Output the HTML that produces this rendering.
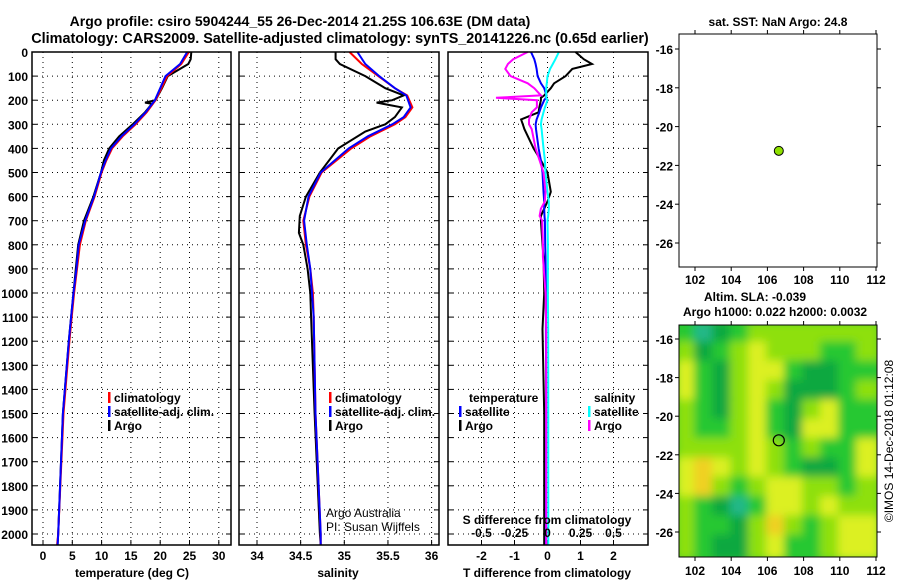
<!DOCTYPE html>
<html><head><meta charset="utf-8"><style>
body{margin:0;background:#fff;}
svg{display:block;font-family:"Liberation Sans",sans-serif;font-weight:bold;}
</style></head><body>
<svg id="c" width="900" height="580" viewBox="0 0 900 580" xmlns="http://www.w3.org/2000/svg">
<defs>
<filter id="bl" x="-5%" y="-5%" width="110%" height="110%"><feGaussianBlur stdDeviation="4.5"/></filter>
<clipPath id="mapclip"><rect x="679" y="325" width="198" height="232"/></clipPath>
</defs>
<text x="300" y="26" font-size="14" text-anchor="middle">Argo profile: csiro 5904244_55 26-Dec-2014 21.25S 106.63E (DM data)</text>
<text x="340" y="43" font-size="14.4" text-anchor="middle">Climatology: CARS2009. Satellite-adjusted climatology: synTS_20141226.nc (0.65d earlier)</text>
<g id="g"></g>
</svg>
<script>
// ---- data ----
const depthTicks=[0,100,200,300,400,500,600,700,800,900,1000,1100,1200,1300,1400,1500,1600,1700,1800,1900,2000];
const tempTicks=[0,5,10,15,20,25,30];
const salTicks=[34,34.5,35,35.5,36];
const tdiffTicks=[-2,-1,0,1,2];
const sdiffTicks=[-0.5,-0.25,0,0.25,0.5];
const sdiffLabels=["-0.5","-0.25","0","0.25","0.5"];

const tArgoDepth=[0,30,50,100,150,200,210,215,250,300,350,400,450,500,600,700,800,900,1000,1100,1200,1500,2000,2045];
const tArgo=[25.3,25.2,24.8,21.3,20.3,19.2,17.4,18.6,17.4,15.3,13.0,11.3,10.4,9.9,8.6,7.0,6.0,5.6,5.2,4.8,4.4,3.4,2.6,2.5];
const tClimDepth=[0,50,100,150,200,250,300,350,400,450,500,600,700,800,900,1000,1100,1200,1500,2000,2045];
const tClim=[24.9,23.6,21.2,20.2,19.2,17.7,15.8,13.6,11.8,10.8,10.0,8.8,7.3,6.3,5.8,5.3,4.9,4.5,3.5,2.6,2.4];
const tSat=[24.6,23.4,20.9,20.0,19.1,17.5,15.6,13.4,11.6,10.7,9.9,8.7,7.2,6.1,5.7,5.2,4.8,4.4,3.4,2.6,2.5];

const sArgoDepth=[0,30,50,100,150,180,200,210,230,270,300,330,400,500,600,680,750,800,900,1000,1100,1500,2000,2045];
const sArgo=[34.90,34.90,34.95,35.24,35.47,35.68,35.55,35.37,35.66,35.58,35.47,35.24,34.93,34.72,34.56,34.49,34.48,34.53,34.58,34.61,34.62,34.66,34.72,34.73];
const sClimDepth=[0,50,100,150,180,230,270,300,350,400,500,600,700,800,900,1000,1100,1500,2000,2045];
const sClim=[35.06,35.20,35.39,35.58,35.72,35.78,35.70,35.58,35.30,35.08,34.74,34.60,34.53,34.56,34.61,34.64,34.65,34.67,34.73,34.73];
const sSat=[35.15,35.24,35.40,35.58,35.71,35.76,35.68,35.55,35.27,35.05,34.73,34.59,34.54,34.57,34.61,34.63,34.65,34.67,34.73,34.73];

const dDepth=[0,30,50,70,100,130,150,180,190,200,230,250,280,300,320,400,450,500,580,620,650,680,700,800,850,1000,1150,1500,2000,2045];
const dTArgo=[0.85,1.1,1.35,0.75,0.55,0.2,0.1,-0.1,-0.2,-0.2,-0.25,-0.27,-0.8,-0.75,-0.7,-0.42,-0.2,0,0.1,0,-0.1,-0.2,-0.2,-0.15,-0.12,-0.1,-0.15,-0.1,-0.1,-0.1];
const dTSat=[-0.5,-0.4,-0.36,-0.33,-0.3,-0.2,-0.1,-0.03,-0.05,-0.1,-0.2,-0.25,-0.33,-0.36,-0.35,-0.27,-0.2,-0.15,-0.12,-0.1,-0.1,-0.09,-0.08,-0.07,-0.06,-0.05,-0.05,-0.04,-0.05,-0.05];
const dSSat=[0.086,0.06,0.04,0.02,0,-0.005,-0.01,-0.01,-0.01,0,-0.02,-0.03,-0.045,-0.05,-0.045,-0.03,-0.02,-0.015,0,0.01,0.01,0.005,0,0.003,0.003,0.003,0.005,0.006,0.006,0.006];
const dSArgo=[-0.15,-0.26,-0.3,-0.32,-0.28,-0.15,-0.1,-0.05,-0.39,-0.08,-0.08,-0.12,-0.14,-0.14,-0.12,-0.09,-0.06,-0.03,-0.015,-0.02,-0.05,-0.06,-0.04,-0.035,-0.035,-0.015,-0.01,-0.01,-0.01,-0.01];

const latTicks=[-16,-18,-20,-22,-24,-26];
const lonTicks=[102,104,106,108,110,112];
const floatLon=106.63, floatLat=-21.25;
const slaGrid=[
[2,0,1,2,3,3,3,3,3,3,3],
[3,1,2,3,4,3,3,3,2,2,3],
[4,2,1,3,4,4,2,1,1,2,2],
[4,2,1,3,4,3,1,1,1,2,3],
[3,2,1,3,4,2,1,3,4,2,2],
[3,2,2,3,4,2,1,4,4,2,2],
[3,3,3,3,4,3,2,3,2,2,4],
[4,5,4,3,4,3,2,1,1,2,4],
[4,5,3,2,3,4,4,3,3,2,3],
[3,2,1,0,2,4,4,3,4,3,3],
[3,2,2,1,3,5,3,2,3,4,4],
[3,2,1,1,3,4,2,2,3,4,4]];
const slaColors=["#20b888","#0ea840","#28c830","#8ee010","#dcf020","#f0d020"];

// ---- helpers ----
const NS="http://www.w3.org/2000/svg";
const G=document.getElementById('g');
function mk(tag,attrs,parent){const e=document.createElementNS(NS,tag);for(const k in attrs)e.setAttribute(k,attrs[k]);(parent||G).appendChild(e);return e;}
function txt(x,y,s,size,anchor,parent){const t=mk('text',{x:x,y:y,'font-size':size,'text-anchor':anchor||'start'},parent);t.textContent=s;return t;}
const yD=d=>52+d*0.241;
const PT={x0:32,x1:231},PS={x0:239,x1:439},PD={x0:448,x1:648};
const xT=v=>43+v*5.86;
const xS=v=>257+(v-34)*87.3;
const xDT=v=>547.5+v*33;
const xDS=v=>547.5+v*132;
const yTop=52,yBot=545;

function panel(P,name){
  const g=mk('g',{});
  
  
  for(const d of depthTicks){
    const l=mk('line',{x1:P.x0,x2:P.x1,y1:yD(d),y2:yD(d),stroke:'#000','stroke-width':1,'stroke-dasharray':'1,4'},g);
    
    
    mk('line',{x1:P.x0,x2:P.x0+5,y1:yD(d),y2:yD(d),stroke:'#000'},g);
    mk('line',{x1:P.x1-5,x2:P.x1,y1:yD(d),y2:yD(d),stroke:'#000'},g);
  }
  return g;
}
function vgrid(g,vals,fx){
  for(const v of vals){
    const l=mk('line',{x1:fx(v),x2:fx(v),y1:yTop,y2:yBot,stroke:'#000','stroke-width':1,'stroke-dasharray':'1,4'},g);
    
    
    mk('line',{x1:fx(v),x2:fx(v),y1:yBot-5,y2:yBot,stroke:'#000'},g);
  }
}
function frame(g,P){const r=mk('rect',{x:P.x0,y:yTop,width:P.x1-P.x0,height:yBot-yTop,fill:'none',stroke:'#000','stroke-width':1.5},g);}
function line(g,depths,vals,fx,color,name){
  let p='';for(let i=0;i<depths.length;i++)p+=(i?'L':'M')+fx(vals[i]).toFixed(1)+','+yD(depths[i]).toFixed(1);
  const e=mk('path',{d:p,fill:'none',stroke:color,'stroke-width':2},g);
  
  
}
function legend(g,x,y,items){
  items.forEach((it,i)=>{
    const r=mk('rect',{x:x,y:y+i*14-10,width:2.5,height:11,fill:it[1]},g);
    
    
    const t=txt(x+6,y+i*14,it[0],12,'start',g);
    
    
  });
}

// depth labels
const yl=mk('g',{});


for(const d of depthTicks)txt(28,yD(d)+5,String(d),12,'end',yl);

// panel 1 temperature
let g1=panel(PT,'temperature-panel');
vgrid(g1,tempTicks,xT);
line(g1,tArgoDepth,tArgo,xT,'#000','argo-temperature-line');
line(g1,tClimDepth,tClim,xT,'#f00','climatology-temperature-line');
line(g1,tClimDepth,tSat,xT,'#00f','satellite-temperature-line');
frame(g1,PT);
for(const v of tempTicks)txt(xT(v),560,String(v),12,'middle',g1);
let t1=txt(132,577,'temperature (deg C)',12,'middle',g1);
legend(g1,108,402,[['climatology','#f00'],['satellite-adj. clim.','#00f'],['Argo','#000']]);

// panel 2 salinity
let g2=panel(PS,'salinity-panel');
vgrid(g2,salTicks,xS);
line(g2,sArgoDepth,sArgo,xS,'#000','argo-salinity-line');
line(g2,sClimDepth,sClim,xS,'#f00','climatology-salinity-line');
line(g2,sClimDepth,sSat,xS,'#00f','satellite-salinity-line');
frame(g2,PS);
salTicks.forEach(v=>txt(xS(v),560,String(v),12,'middle',g2));
let t2=txt(338,577,'salinity',12,'middle',g2);
legend(g2,329,402,[['climatology','#f00'],['satellite-adj. clim.','#00f'],['Argo','#000']]);
let cr=mk('g',{'font-weight':'normal'},g2);


txt(326,517,'Argo Australia',12,'start',cr);
txt(326,531,'PI: Susan Wijffels',12,'start',cr);

// panel 3 differences
let g3=panel(PD,'difference-panel');
vgrid(g3,tdiffTicks,xDT);
line(g3,dDepth,dTArgo,xDT,'#000','argo-temperature-difference-line');
line(g3,dDepth,dTSat,xDT,'#00f','satellite-temperature-difference-line');
line(g3,dDepth,dSSat,xDS,'#0ff','satellite-salinity-difference-line');
line(g3,dDepth,dSArgo,xDS,'#f0f','argo-salinity-difference-line');
frame(g3,PD);
tdiffTicks.forEach(v=>txt(xDT(v),560,String(v),12,'middle',g3));
sdiffTicks.forEach((v,i)=>txt(xDS(v),537,sdiffLabels[i],12,'middle',g3));
let t3=txt(547,524,'S difference from climatology',12,'middle',g3);
let t4=txt(547,577,'T difference from climatology',12,'middle',g3);
txt(469,402,'temperature',12,'start',g3);
legend(g3,459,416,[['satellite','#00f'],['Argo','#000']]);
txt(594,402,'salinity',12,'start',g3);
legend(g3,588,416,[['satellite','#0ff'],['Argo','#f0f']]);

// maps
const M1={x0:679,x1:877,y0:34,y1:267}, M2={x0:679,x1:877,y0:325,y1:557};
const mx=lon=>695+(lon-102)*18.1;
const my1=lat=>49+(-16-lat)*19.4;
const my2=lat=>339+(-16-lat)*19.3;
function mapAxes(g,M,fy){
  for(const l of latTicks){txt(M.x0-6,fy(l)+5,String(l),12,'end',g);
    mk('line',{x1:M.x0-4,x2:M.x0,y1:fy(l),y2:fy(l),stroke:'#000'},g);
    mk('line',{x1:M.x1,x2:M.x1+4,y1:fy(l),y2:fy(l),stroke:'#000'},g);}
  for(const l of lonTicks){
    mk('line',{x1:mx(l),x2:mx(l),y1:M.y1,y2:M.y1+4,stroke:'#000'},g);
    mk('line',{x1:mx(l),x2:mx(l),y1:M.y0-4,y2:M.y0,stroke:'#000'},g);}
  mk('rect',{x:M.x0,y:M.y0,width:M.x1-M.x0,height:M.y1-M.y0,fill:'none',stroke:'#000','stroke-width':1},g);
}
let gm1=mk('g',{});


mapAxes(gm1,M1,my1);
lonTicks.forEach(l=>txt(mx(l),284,String(l),12,'middle',gm1));
txt(778,26,'sat. SST: NaN Argo: 24.8',12,'middle',gm1);
let dot=mk('circle',{cx:mx(floatLon),cy:my1(floatLat),r:4.5,fill:'#8ee000',stroke:'#000','stroke-width':1},gm1);


txt(755,301,'Altim. SLA: -0.039',12,'middle',gm1);
txt(775,316,'Argo h1000: 0.022 h2000: 0.0032',12,'middle',gm1);

let gm2=mk('g',{});


const hm=mk('g',{'clip-path':'url(#mapclip)'},gm2);
mk('rect',{x:M2.x0,y:M2.y0,width:198,height:232,fill:'#30c830'},hm);
const hb=mk('g',{filter:'url(#bl)'},hm);
const cw=198/11, ch=232/12;
slaGrid.forEach((row,r)=>row.forEach((v,c)=>{
  const cell=mk('rect',{x:M2.x0+c*cw-3,y:M2.y0+r*ch-3,width:cw+6,height:ch+6,fill:slaColors[v]},hb);
  
  
}));
mapAxes(gm2,M2,my2);
lonTicks.forEach(l=>txt(mx(l),575,String(l),12,'middle',gm2));
let ring=mk('circle',{cx:mx(floatLon),cy:my2(floatLat),r:5.5,fill:'none',stroke:'#000','stroke-width':1.2},gm2);


let stamp=txt(0,0,'©IMOS 14-Dec-2018 01:12:08',12,'middle',gm2);
stamp.setAttribute('font-weight','normal');
stamp.setAttribute('transform','translate(893,441) rotate(-90)');


</script>
</body></html>
